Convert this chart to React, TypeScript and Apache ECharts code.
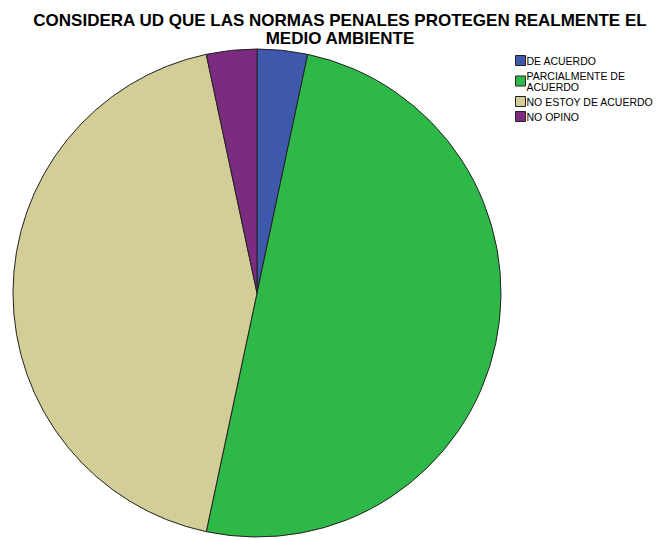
import React, { useEffect, useRef } from "react";
import * as echarts from "echarts";

const titleText = "CONSIDERA UD QUE LAS NORMAS PENALES PROTEGEN REALMENTE EL\nMEDIO AMBIENTE";
const categories = ["DE ACUERDO", "PARCIALMENTE DE ACUERDO", "NO ESTOY DE ACUERDO", "NO OPINO"];
const legendLabels = ["DE ACUERDO", "PARCIALMENTE DE\nACUERDO", "NO ESTOY DE ACUERDO", "NO OPINO"];
const values = [1, 15, 13, 1];
const colors = ["#3e58ac", "#2eb848", "#d3ce97", "#7b2c7f"];

export default function App() {
  const ref = useRef<HTMLDivElement>(null);
  useEffect(() => {
    document.body.style.margin = "0";
    const chart = echarts.init(ref.current!, undefined, { renderer: "svg" });
    chart.setOption({
      animation: false,
      backgroundColor: "#ffffff",
      title: {
        text: titleText,
        left: 335,
        textAlign: "center",
        top: 6,
        textStyle: {
          fontFamily: "Liberation Sans, Arial, sans-serif",
          fontSize: 17,
          fontWeight: "bold",
          color: "#000",
          lineHeight: 18,
        },
      },
      legend: {
        orient: "vertical",
        left: 510,
        top: 50,
        itemWidth: 10,
        itemHeight: 10,
        itemGap: 4,
        icon: "rect",
        data: categories,
        formatter: (name: string) => legendLabels[categories.indexOf(name)],
        itemStyle: { borderColor: "#222", borderWidth: 1 },
        textStyle: {
          fontFamily: "Liberation Sans, Arial, sans-serif",
          fontSize: 10.5,
          color: "#000",
          lineHeight: 11,
          padding: [0, 0, 0, -4],
        },
      },
      series: [
        {
          type: "pie",
          center: [257, 293],
          radius: 244,
          startAngle: 90,
          clockwise: true,
          label: { show: false },
          labelLine: { show: false },
          emphasis: { disabled: true },
          itemStyle: { borderColor: "#222", borderWidth: 1 },
          data: categories.map((c, i) => ({
            name: c,
            value: values[i],
            itemStyle: { color: colors[i] },
          })),
        },
      ],
    });
    return () => chart.dispose();
  }, []);
  return <div ref={ref} style={{ width: 659, height: 540 }} />;
}
